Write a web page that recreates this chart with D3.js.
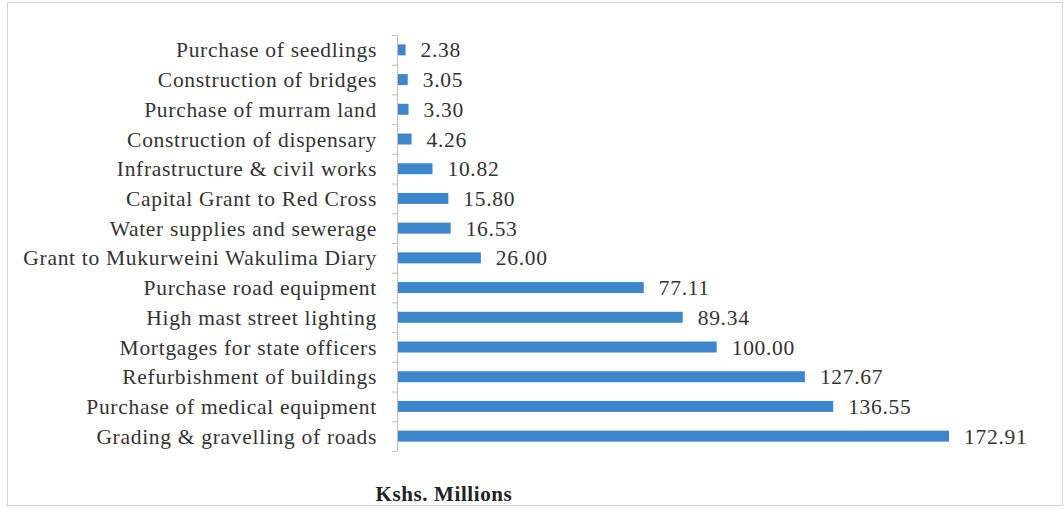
<!DOCTYPE html>
<html>
<head>
<meta charset="utf-8">
<script src="https://cdn.jsdelivr.net/npm/d3@7"></script>
<style>
  body { margin: 0; background: #fff; }
  svg { display: block; }
</style>
</head>
<body>
<div id="chart"></div>
<script>
// projects, top to bottom as in the picture
const categories = [
  "Purchase of seedlings",
  "Construction of bridges",
  "Purchase of murram land",
  "Construction of dispensary",
  "Infrastructure & civil works",
  "Capital Grant to Red Cross",
  "Water supplies and sewerage",
  "Grant to Mukurweini Wakulima Diary",
  "Purchase road equipment",
  "High mast street lighting",
  "Mortgages for state officers",
  "Refurbishment of buildings",
  "Purchase of medical equipment",
  "Grading & gravelling of roads"
]
const amounts = [2.38, 3.05, 3.30, 4.26, 10.82, 15.80, 16.53, 26.00, 77.11, 89.34, 100.00, 127.67, 136.55, 172.91]
const axisTitle = "Kshs. Millions"

const width = 1064, height = 509
const serif = "Liberation Serif, Times New Roman, serif"

const data = categories.map((c, i) => ({ name: c, value: amounts[i] }))

const svg = d3.select("#chart")
  .append("svg")
  .attr("width", width)
  .attr("height", height)

// light frame round the chart
svg.append("rect")
  .attr("x", 7.5)
  .attr("y", 2.5)
  .attr("width", 1055)
  .attr("height", 503)
  .attr("fill", "none")
  .attr("stroke", "#d4d4d4")

const x = d3.scaleLinear()
  .domain([0, 200])
  .range([398, 398 + 637.4])

const y = d3.scaleBand()
  .domain(categories)
  .range([35, 451])
  .paddingInner(0.63)
  .paddingOuter(0.315)

// bars
svg.selectAll(".bar")
  .data(data)
  .join("rect")
  .attr("class", "bar")
  .attr("x", x(0))
  .attr("y", d => y(d.name))
  .attr("width", d => x(d.value) - x(0))
  .attr("height", y.bandwidth())
  .attr("fill", "#3d86cc")

// value labels
svg.selectAll(".val")
  .data(data)
  .join("text")
  .attr("class", "val")
  .attr("x", d => x(d.value) + 15)
  .attr("y", d => y(d.name) + y.bandwidth() / 2)
  .attr("dy", "0.35em")
  .attr("font-family", serif)
  .attr("font-size", 21.5)
  .attr("letter-spacing", 0.7)
  .attr("fill", "#333")
  .text(d => d.value.toFixed(2))

// category axis with ticks between the rows
const step = y.step()
const yAxis = svg.append("g")
yAxis.append("line")
  .attr("x1", 397.5).attr("x2", 397.5)
  .attr("y1", 35).attr("y2", 451)
  .attr("stroke", "#bfbfbf")
yAxis.selectAll(".tick")
  .data(d3.range(categories.length + 1))
  .join("line")
  .attr("class", "tick")
  .attr("x1", 392).attr("x2", 397.5)
  .attr("y1", i => 35 + i * step + 0.5)
  .attr("y2", i => 35 + i * step + 0.5)
  .attr("stroke", "#bfbfbf")

svg.selectAll(".cat")
  .data(data)
  .join("text")
  .attr("class", "cat")
  .attr("x", 377)
  .attr("y", d => y(d.name) + y.bandwidth() / 2)
  .attr("dy", "0.35em")
  .attr("text-anchor", "end")
  .attr("font-family", serif)
  .attr("font-size", 21.5)
  .attr("letter-spacing", 0.7)
  .attr("fill", "#333")
  .text(d => d.name)

// axis title
svg.append("text")
  .attr("x", 444)
  .attr("y", 501)
  .attr("text-anchor", "middle")
  .attr("font-family", serif)
  .attr("font-weight", "bold")
  .attr("font-size", 21)
  .attr("letter-spacing", 0.6)
  .attr("fill", "#222")
  .text(axisTitle)
</script>
</body>
</html>
